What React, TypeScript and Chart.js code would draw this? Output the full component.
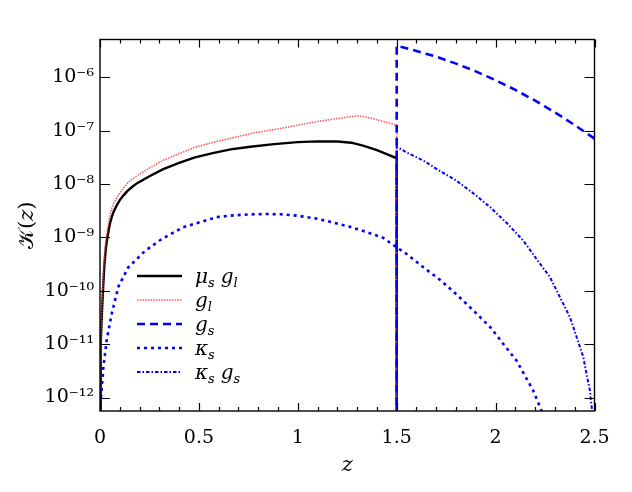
import React, { useEffect, useRef } from 'react';
import { Chart, registerables } from 'chart.js';

Chart.register(...registerables);

// ---- data ----
// values below the axis floor stand for "zero" (the curve leaves the plot)
const FLOOR = 4e-13;

const zMuGl = [0, 0.002, 0.005, 0.01, 0.015, 0.022, 0.03, 0.04, 0.05, 0.06, 0.07, 0.085, 0.1, 0.12, 0.14, 0.165, 0.19, 0.25, 0.32, 0.4, 0.48, 0.57, 0.66, 0.76, 0.88, 1.0, 1.1, 1.2, 1.27, 1.33, 1.4, 1.495, 1.5, 1.5];
const kMuGl = [FLOOR, 1.5e-12, 1e-11, 4e-11, 1e-10, 3e-10, 6.5e-10, 1.15e-9, 1.8e-9, 2.45e-9, 3.1e-9, 4e-9, 5e-9, 6.2e-9, 7.5e-9, 9e-9, 1.05e-8, 1.4e-8, 1.9e-8, 2.5e-8, 3.15e-8, 3.8e-8, 4.45e-8, 5e-8, 5.6e-8, 6.1e-8, 6.3e-8, 6.25e-8, 5.95e-8, 5.25e-8, 4.3e-8, 3.1e-8, 3.0e-8, FLOOR];

const zGl = [0, 0.002, 0.005, 0.01, 0.015, 0.022, 0.03, 0.04, 0.05, 0.06, 0.07, 0.085, 0.1, 0.12, 0.14, 0.165, 0.19, 0.25, 0.32, 0.4, 0.48, 0.57, 0.66, 0.78, 0.926, 1.095, 1.264, 1.31, 1.36, 1.495, 1.5, 1.5];
const kGl = [FLOOR, 2e-12, 1.3e-11, 6e-11, 1.5e-10, 4.5e-10, 9e-10, 1.6e-9, 2.6e-9, 3.5e-9, 4.4e-9, 5.6e-9, 6.8e-9, 8.5e-9, 1.05e-8, 1.25e-8, 1.45e-8, 2e-8, 2.8e-8, 3.7e-8, 4.9e-8, 6e-8, 7.2e-8, 9.1e-8, 1.12e-7, 1.48e-7, 1.82e-7, 1.9e-7, 1.75e-7, 1.29e-7, 1.25e-7, FLOOR];

const zGs = [1.5, 1.5, 1.55, 1.6, 1.7, 1.8, 1.9, 2.0, 2.1, 2.2, 2.3, 2.4, 2.5];
const kGs = [FLOOR, 3.9e-6, 3.5e-6, 3.1e-6, 2.43e-6, 1.8e-6, 1.29e-6, 8.8e-7, 5.8e-7, 3.64e-7, 2.2e-7, 1.27e-7, 7.1e-8];

const zKs = [0, 0.001, 0.005, 0.017, 0.034, 0.059, 0.093, 0.143, 0.228, 0.312, 0.42, 0.5, 0.59, 0.68, 0.76, 0.85, 0.925, 1.0, 1.095, 1.18, 1.264, 1.35, 1.432, 1.5, 1.55, 1.635, 1.72, 1.8, 1.89, 1.972, 2.04, 2.106, 2.15, 2.19, 2.235, 2.26];
const kKs = [FLOOR, 5e-13, 1e-12, 3.7e-12, 1.2e-11, 3.7e-11, 1.2e-10, 2.75e-10, 5.6e-10, 9.3e-10, 1.55e-9, 1.9e-9, 2.4e-9, 2.6e-9, 2.7e-9, 2.75e-9, 2.7e-9, 2.55e-9, 2.25e-9, 1.9e-9, 1.58e-9, 1.25e-9, 9.8e-10, 6.5e-10, 4.9e-10, 2.75e-10, 1.6e-10, 8.7e-11, 4.2e-11, 2.1e-11, 1e-11, 4.9e-12, 2.5e-12, 1.35e-12, 5.4e-13, FLOOR];

const zKsGs = [1.5, 1.5, 1.55, 1.635, 1.72, 1.8, 1.89, 1.972, 2.06, 2.14, 2.21, 2.275, 2.33, 2.376, 2.41, 2.443, 2.465, 2.477, 2.486, 2.495];
const kKsGs = [FLOOR, 5e-8, 3.9e-8, 2.75e-8, 1.74e-8, 1.17e-8, 6.6e-9, 3.7e-9, 1.8e-9, 8.7e-10, 3.8e-10, 1.8e-10, 7e-11, 3.2e-11, 1.35e-11, 5.8e-12, 2.2e-12, 1.35e-12, 6.5e-13, FLOOR];

const xTickValues = [0, 0.5, 1, 1.5, 2, 2.5];
const xTickLabels = ['0', '0.5', '1', '1.5', '2', '2.5'];
const xMinorStep = 0.1;
const yTickValues = [1e-12, 1e-11, 1e-10, 1e-9, 1e-8, 1e-7, 1e-6];
const yMin = 5.6e-13;
const yMax = 5.1e-6;

// legend labels: pieces of [main, subscript]
const legendLabels: [string, string][][] = [
  [['μ', 's'], ['g', 'l']],
  [['g', 'l']],
  [['g', 's']],
  [['κ', 's']],
  [['κ', 's'], ['g', 's']],
];

const SERIF = '"DejaVu Serif", "Liberation Serif", serif';

const sup: Record<string, string> = { '-': '⁻', '0': '⁰', '1': '¹', '2': '²', '3': '³', '4': '⁴', '5': '⁵', '6': '⁶', '7': '⁷', '8': '⁸', '9': '⁹' };
function decadeLabel(v: number): string {
  const e = Math.round(Math.log10(v));
  return '10' + String(e).split('').map((c) => sup[c] || c).join('');
}

function pts(xs: number[], ys: number[]) {
  return xs.map((x, i) => ({ x, y: ys[i] }));
}

const framePlugin = {
  id: 'frameTicks',
  afterDatasetsDraw(chart: any) {
    const { ctx, chartArea: a, scales } = chart;
    const x = scales.x;
    const y = scales.y;
    ctx.save();
    ctx.strokeStyle = '#000';
    ctx.lineWidth = 1.2;
    ctx.beginPath();
    const n = Math.round(2.5 / xMinorStep);
    for (let i = 0; i <= n; i++) {
      const v = i * xMinorStep;
      const px = Math.round(x.getPixelForValue(v)) + 0.5;
      const major = xTickValues.some((t) => Math.abs(t - v) < 1e-6);
      const len = major ? 8 : 4;
      ctx.moveTo(px, a.bottom);
      ctx.lineTo(px, a.bottom - len);
      ctx.moveTo(px, a.top);
      ctx.lineTo(px, a.top + len);
    }
    yTickValues.forEach((v) => {
      const py = Math.round(y.getPixelForValue(v)) + 0.5;
      ctx.moveTo(a.left, py);
      ctx.lineTo(a.left + 10, py);
      ctx.moveTo(a.right, py);
      ctx.lineTo(a.right - 10, py);
    });
    ctx.stroke();
    ctx.lineWidth = 1.4;
    ctx.strokeRect(a.left, a.top, a.right - a.left, a.bottom - a.top);
    ctx.restore();
  },
};

const legendPlugin = {
  id: 'texLegend',
  afterDraw(chart: any) {
    const { ctx } = chart;
    const x0 = 137;
    const x1 = 182;
    const tx = 195;
    const yTop = 276;
    const dy = 24;
    ctx.save();
    chart.data.datasets.forEach((ds: any, i: number) => {
      const yy = yTop + i * dy;
      ctx.strokeStyle = ds.borderColor;
      ctx.lineWidth = ds.borderWidth;
      ctx.setLineDash(ds.borderDash || []);
      ctx.beginPath();
      ctx.moveTo(x0, yy);
      ctx.lineTo(x1, yy);
      ctx.stroke();
      ctx.setLineDash([]);
      ctx.fillStyle = '#000';
      ctx.textBaseline = 'alphabetic';
      ctx.textAlign = 'left';
      let cx = tx;
      legendLabels[i].forEach(([main, sub], k) => {
        if (k > 0) cx += 6;
        ctx.font = `italic 20px ${SERIF}`;
        ctx.fillText(main, cx, yy + 7);
        cx += ctx.measureText(main).width;
        ctx.font = `italic 13px ${SERIF}`;
        ctx.fillText(sub, cx, yy + 11);
        cx += ctx.measureText(sub).width;
      });
    });
    ctx.restore();
  },
};

export default function App() {
  const ref = useRef<HTMLCanvasElement | null>(null);
  useEffect(() => {
    if (!ref.current) return;
    const chart = new Chart(ref.current, {
      type: 'line',
      data: {
        datasets: [
          { label: 'mu_s g_l', data: pts(zMuGl, kMuGl), borderColor: '#000000', borderWidth: 2.4, borderDash: [], order: 3 },
          { label: 'g_l', data: pts(zGl, kGl), borderColor: 'rgba(255,60,60,0.85)', borderWidth: 1.6, borderDash: [1.5, 1.2], order: 2 },
          { label: 'g_s', data: pts(zGs, kGs), borderColor: '#0000ff', borderWidth: 2.6, borderDash: [8, 5], order: 0 },
          { label: 'kappa_s', data: pts(zKs, kKs), borderColor: '#0000ff', borderWidth: 2.6, borderDash: [3, 4], order: 1 },
          { label: 'kappa_s g_s', data: pts(zKsGs, kKsGs), borderColor: '#0000ff', borderWidth: 2, borderDash: [3.5, 2, 1.5, 2], order: 1 },
        ] as any,
      },
      options: {
        animation: false,
        responsive: false,
        layout: { padding: { top: 39.5, right: 37.5, left: 0, bottom: 0 } },
        elements: { point: { radius: 0, hoverRadius: 0 }, line: { tension: 0, fill: false } },
        plugins: { legend: { display: false }, tooltip: { enabled: false } },
        scales: {
          x: {
            type: 'linear',
            min: 0,
            max: 2.5,
            afterBuildTicks: (s: any) => { s.ticks = xTickValues.map((v) => ({ value: v })); },
            afterFit: (s: any) => { s.height = 81; },
            grid: { display: false, drawTicks: false },
            border: { display: false },
            ticks: {
              color: '#000', font: { family: SERIF, size: 19 }, padding: 16, maxRotation: 0,
              callback: (v: any) => { const i = xTickValues.indexOf(Number(v)); return i >= 0 ? xTickLabels[i] : ''; },
            },
            title: { display: true, text: 'z', color: '#000', font: { family: SERIF, size: 21, style: 'italic' }, padding: { top: 0, bottom: 14 } },
          },
          y: {
            type: 'logarithmic',
            min: yMin,
            max: yMax,
            afterBuildTicks: (s: any) => { s.ticks = yTickValues.map((v) => ({ value: v })); },
            afterFit: (s: any) => { s.width = 100; },
            grid: { display: false, drawTicks: false },
            border: { display: false },
            ticks: { color: '#000', font: { family: SERIF, size: 19 }, padding: 6, callback: (v: any) => decadeLabel(Number(v)) },
            title: { display: true, text: '𝒦(𝑧)', color: '#000', font: { family: SERIF, size: 21 }, padding: { top: 15, bottom: 0 } },
          },
        },
      } as any,
      plugins: [framePlugin, legendPlugin],
    });
    return () => chart.destroy();
  }, []);
  return (
    <div style={{ position: 'absolute', left: 0, top: 0, width: 632, height: 492, background: '#fff' }}>
      <canvas ref={ref} width={632} height={492} style={{ display: 'block' }} />
    </div>
  );
}
